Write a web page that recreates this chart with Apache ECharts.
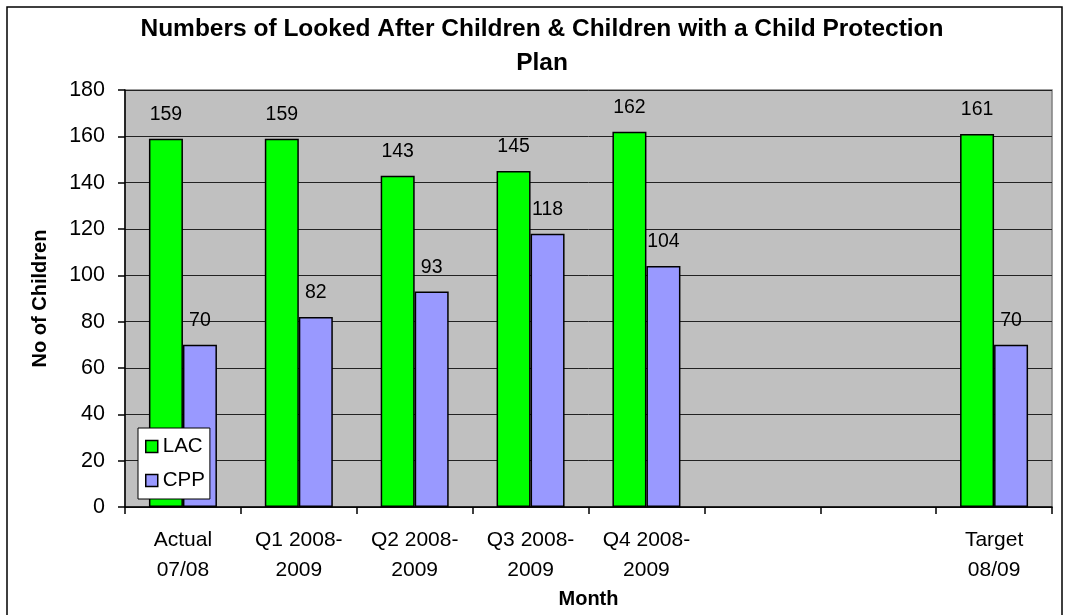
<!DOCTYPE html>
<html>
<head>
<meta charset="utf-8">
<script src="https://cdn.jsdelivr.net/npm/echarts@6/dist/echarts.min.js"></script>
<style>html,body{margin:0;padding:0;background:#fff;}#c{width:1067px;height:615px;}</style>
</head>
<body>
<div id="c"></div>
<script>
var categories = ["Actual\n07/08", "Q1 2008-\n2009", "Q2 2008-\n2009", "Q3 2008-\n2009", "Q4 2008-\n2009", "", "", "Target\n08/09"];
var lacValues = [159, 159, 143, 145, 162, null, null, 161];
var cppValues = [70, 82, 93, 118, 104, null, null, 70];
var yTicks = { min: 0, max: 180, interval: 20 };

var FONT = "'Liberation Sans', Arial, sans-serif";
var chart = echarts.init(document.getElementById('c'), null, { renderer: 'canvas' });
var labelStyle = { show: true, position: 'top', distance: 14, fontSize: 19.5, color: '#000', fontFamily: FONT };
chart.setOption({
  animation: false,
  backgroundColor: '#fff',
  textStyle: { fontFamily: FONT },
  title: {
    text: 'Numbers of Looked After Children & Children with a Child Protection\nPlan',
    left: 537,
    top: 7,
    textAlign: 'center',
    padding: 5,
    textStyle: { fontSize: 24.5, fontWeight: 'bold', color: '#000', lineHeight: 34, fontFamily: FONT }
  },
  graphic: [{
    type: 'rect',
    shape: { x: 7, y: 7, width: 1055, height: 620 },
    style: { fill: 'none', stroke: '#000', lineWidth: 1.5 },
    silent: true
  }],
  legend: {
    orient: 'vertical',
    left: 138,
    top: 428,
    data: ['LAC', 'CPP'],
    backgroundColor: '#fff',
    borderColor: '#000',
    borderWidth: 1,
    padding: [8, 5, 8, 7],
    itemGap: 13,
    itemWidth: 12,
    itemHeight: 12,
    icon: 'rect',
    itemStyle: { borderColor: '#000', borderWidth: 1.5 },
    textStyle: { fontSize: 20.5, color: '#000', fontFamily: FONT }
  },
  grid: {
    left: 125, right: 15, top: 90, bottom: 108,
    show: true, backgroundColor: '#c0c0c0', borderColor: '#808080', borderWidth: 1.5,
    containLabel: false
  },
  xAxis: {
    type: 'category',
    data: categories,
    name: 'Month',
    nameLocation: 'middle',
    nameGap: 76,
    nameTextStyle: { fontSize: 20, fontWeight: 'bold', color: '#000', fontFamily: FONT },
    axisLine: { show: true, lineStyle: { color: '#000', width: 1.5 } },
    axisTick: { show: true, length: 7, alignWithLabel: false, lineStyle: { color: '#000', width: 1.5 } },
    axisLabel: { interval: 0, fontSize: 21, lineHeight: 30, color: '#000', margin: 18, fontFamily: FONT },
    splitLine: { show: false }
  },
  yAxis: {
    type: 'value',
    min: yTicks.min, max: yTicks.max, interval: yTicks.interval,
    name: 'No of Children',
    nameLocation: 'middle',
    nameRotate: 90,
    nameGap: 75,
    nameTextStyle: { fontSize: 20, fontWeight: 'bold', color: '#000', fontFamily: FONT },
    axisLine: { show: true, lineStyle: { color: '#000', width: 1.5 } },
    axisTick: { show: true, length: 7, inside: false, lineStyle: { color: '#000', width: 1.5 } },
    axisLabel: { fontSize: 21.5, color: '#000', margin: 20, fontFamily: FONT },
    splitLine: { show: true, lineStyle: { color: '#222', width: 1 } }
  },
  series: [
    {
      name: 'LAC', type: 'bar', data: lacValues, barWidth: 34, barGap: '0%',
      itemStyle: { color: '#00ff00', borderColor: '#000', borderWidth: 1.5 },
      label: labelStyle
    },
    {
      name: 'CPP', type: 'bar', data: cppValues, barWidth: 34, barGap: '0%',
      itemStyle: { color: '#9999ff', borderColor: '#000', borderWidth: 1.5 },
      label: labelStyle
    }
  ]
});
</script>
</body>
</html>
